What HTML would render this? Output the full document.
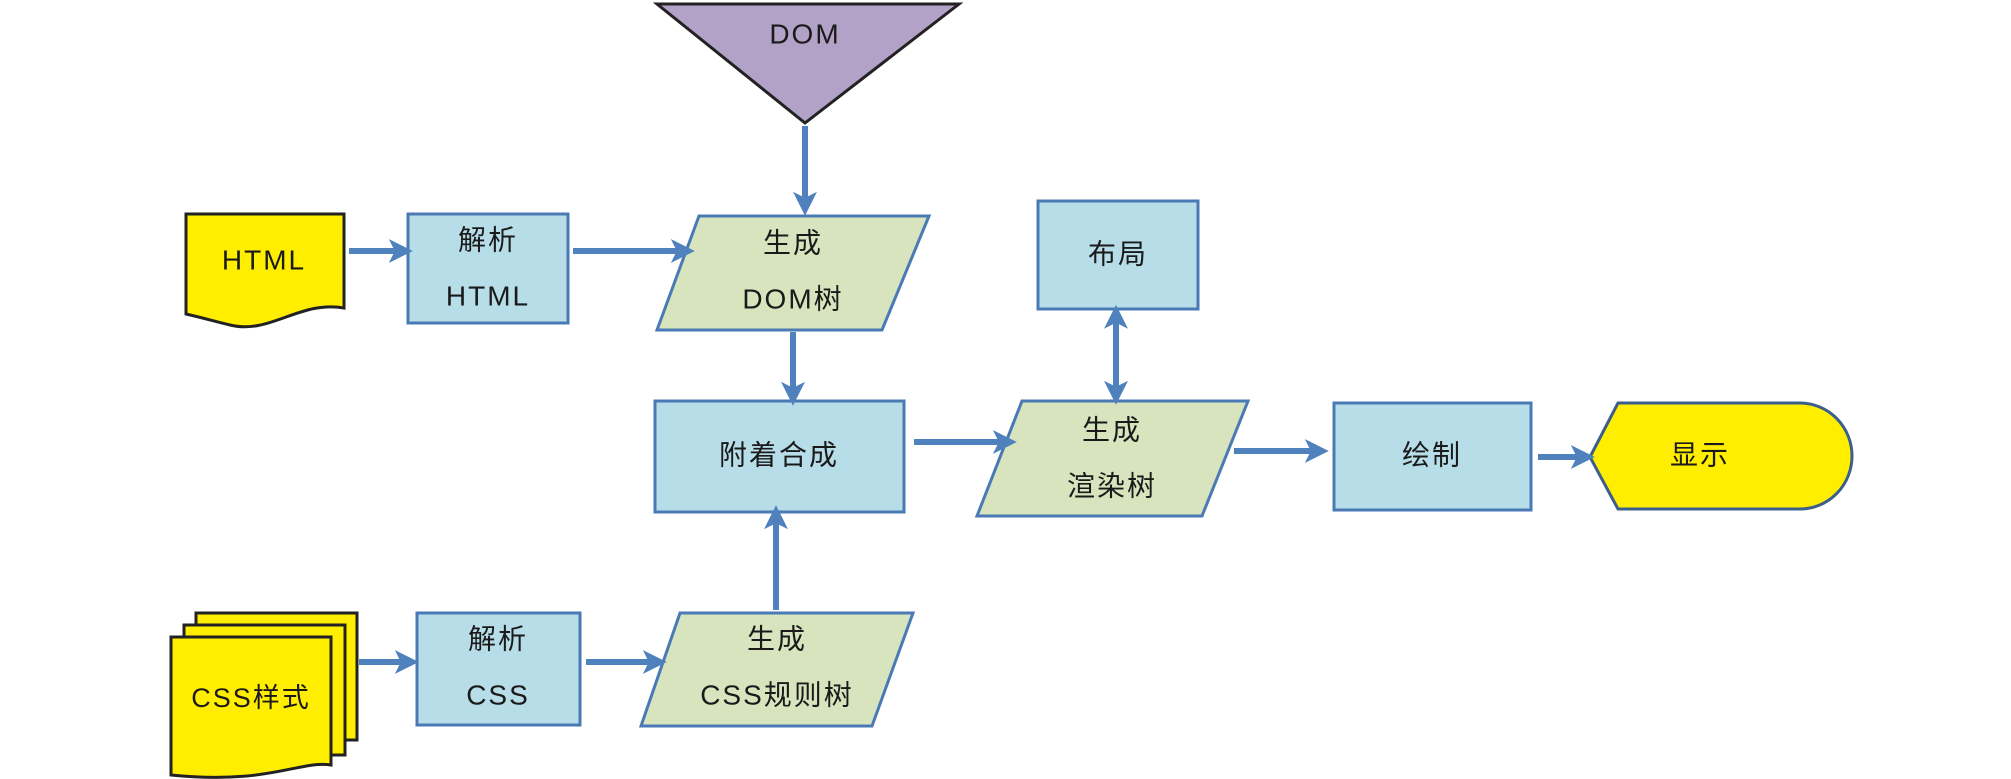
<!DOCTYPE html>
<html><head><meta charset="utf-8"><style>
html,body{margin:0;padding:0;background:#fff;}
svg{display:block}
text{font-family:"Liberation Sans","Noto Sans CJK SC",sans-serif;font-size:28px;fill:#1a1a1a;text-anchor:middle;dominant-baseline:middle;letter-spacing:2px}
.b{fill:#b7dde8;stroke:#4a7ab5;stroke-width:3}
.g{fill:#d7e4bd;stroke:#4a7ab5;stroke-width:3}
.y{fill:#ffee00;stroke:#222;stroke-width:3}
.a{stroke:#4f81bd;stroke-width:6;fill:none}
</style></head><body>
<svg width="2011" height="779" viewBox="0 0 2011 779">
<defs>
<marker id="m" markerWidth="4" markerHeight="4" refX="2.2" refY="2" orient="auto" markerUnits="strokeWidth">
<path d="M0,0 L4,2 L0,4 L1,2 Z" fill="#4f81bd"/></marker>
<marker id="ms" markerWidth="4" markerHeight="4" refX="1.8" refY="2" orient="auto-start-reverse" markerUnits="strokeWidth">
<path d="M0,0 L4,2 L0,4 L1,2 Z" fill="#4f81bd"/></marker>
</defs>
<!-- DOM triangle -->
<polygon points="657,4 959,4 805,123" fill="#b3a2c7" stroke="#222" stroke-width="3"/>
<text x="805" y="36">DOM</text>
<!-- HTML doc -->
<path class="y" d="M186,214 H344 V308 C300,300 270,335 230,325 C210,320 195,316 186,314 Z"/>
<text x="264" y="262">HTML</text>
<!-- 解析HTML -->
<rect class="b" x="408" y="214" width="160" height="109"/>
<text x="488" y="242">解析</text><text x="488" y="298">HTML</text>
<!-- 生成DOM树 -->
<polygon class="g" points="699,216 929,216 882,330 657,330"/>
<text x="793" y="245">生成</text><text x="793" y="301">DOM树</text>
<!-- 附着合成 -->
<rect class="b" x="655" y="401" width="249" height="111"/>
<text x="779" y="457">附着合成</text>
<!-- 布局 -->
<rect class="b" x="1038" y="201" width="160" height="108"/>
<text x="1118" y="256">布局</text>
<!-- 渲染树 -->
<polygon class="g" points="1022,401 1248,401 1202,516 977,516"/>
<text x="1112" y="432">生成</text><text x="1112" y="488">渲染树</text>
<!-- 绘制 -->
<rect class="b" x="1334" y="403" width="197" height="107"/>
<text x="1432" y="457">绘制</text>
<!-- 显示 -->
<path class="y" d="M1590,457 L1618,403 H1800 A52,53 0 0 1 1800,509 H1618 Z" style="stroke:#3b5f8a"/>
<text x="1700" y="457">显示</text>
<!-- CSS stack -->
<path class="y" d="M196,613 H357 V740 H196 Z"/>
<path class="y" d="M184,625 H345 V755 H184 Z"/>
<path class="y" d="M171,637 H331 V765 C300,760 270,785 171,775 Z"/>
<text x="251" y="700" style="font-size:27px">CSS样式</text>
<!-- 解析CSS -->
<rect class="b" x="417" y="613" width="163" height="112"/>
<text x="498" y="641">解析</text><text x="498" y="697">CSS</text>
<!-- CSS规则树 -->
<polygon class="g" points="680,613 913,613 872,726 641,726"/>
<text x="777" y="641">生成</text><text x="777" y="697">CSS规则树</text>
<!-- arrows -->
<line class="a" x1="805" y1="126" x2="805" y2="205" marker-end="url(#m)"/>
<line class="a" x1="349" y1="251" x2="402" y2="251" marker-end="url(#m)"/>
<line class="a" x1="573" y1="251" x2="684" y2="251" marker-end="url(#m)"/>
<line class="a" x1="793" y1="332" x2="793" y2="395" marker-end="url(#m)"/>
<line class="a" x1="914" y1="442" x2="1006" y2="442" marker-end="url(#m)"/>
<line class="a" x1="1116" y1="318" x2="1116" y2="394" marker-start="url(#ms)" marker-end="url(#m)"/>
<line class="a" x1="1234" y1="451" x2="1318" y2="451" marker-end="url(#m)"/>
<line class="a" x1="1538" y1="457" x2="1584" y2="457" marker-end="url(#m)"/>
<line class="a" x1="359" y1="662" x2="408" y2="662" marker-end="url(#m)"/>
<line class="a" x1="586" y1="662" x2="656" y2="662" marker-end="url(#m)"/>
<line class="a" x1="776" y1="610" x2="776" y2="516" marker-end="url(#m)"/>
</svg>
</body></html>
